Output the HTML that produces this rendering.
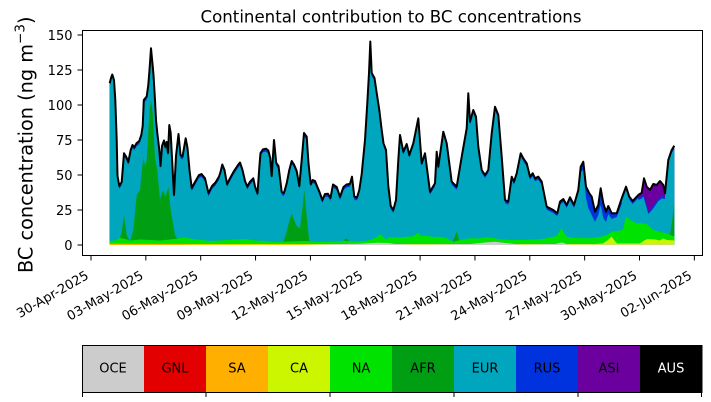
<!DOCTYPE html>
<html>
<head>
<meta charset="utf-8">
<style>
  html, body { margin: 0; padding: 0; background: #ffffff; }
  svg { display: block; }
  text { font-family: "DejaVu Sans", "Liberation Sans", sans-serif; fill: #000; }
</style>
</head>
<body>
<svg width="711" height="402" viewBox="0 0 711 402" xmlns="http://www.w3.org/2000/svg" xmlns:xlink="http://www.w3.org/1999/xlink">
  <defs>
    <clipPath id="plotclip">
      <rect x="82" y="30" width="620" height="215"/>
    </clipPath>
    <polygon id="tot" points="109.7,245 109.7,83.3 111,78 112.3,74.5 114,80 115.3,100 116.7,140 117.5,176 119.3,186 121.7,182 124,153.3 126.3,157 128.3,162 130.7,150 132.5,145 134.3,147.3 136.7,143 139.3,141 141.3,135 142.7,126 143.8,100 146.7,96.5 148.3,85 149.5,70 151,48.3 152.7,66 153.5,75 155,100 156,120 157.3,133 159.3,150 160.5,166 162,146 164,140.5 165.3,146.7 166.7,142 168,153 169.3,125 170.7,133 172,158 174,195 176,156 178.5,134 180.5,155 182.5,156.7 184,148 185.7,138.3 187.5,148 189.5,170 191.7,188 195,182 199,175 201.5,174 205,178.3 208.5,193.3 212,186 215.5,182.5 219,176.7 220.5,172 222.3,164.5 224.5,170 227,184 230,178.3 234,171 238,165 240,162.5 242.5,170 245,181 247.3,186.5 250,181.7 253.3,178.3 255,186.5 257.5,193.3 259.5,165 260.5,153 263,149.3 266,148.7 268.3,150.5 270.2,158 271.7,176 274,140 276.2,163 278.5,166 280,178 281.7,192 284,193 286.7,183.3 289.3,170 291.7,161 294,164.5 296.7,171 299.3,186 301.7,160 304,133 306.7,136.7 308.5,163.3 310.7,184 312.7,180 315,181 317.3,186.7 320,193.3 322.3,200 325,194 328,193.8 330.5,198 333,184.5 336.7,187 340,197 343.5,187 346.5,184.5 350,183.8 352,176.7 354.3,196.7 357,197.5 359.3,190 361.7,174 365,140 367.3,103 369,73 370.3,41.5 371.7,73 374.5,78 376.7,93 379.3,110 381.7,130 383.5,143.3 386,150 388.3,186 390.7,206 393.3,210 396,200 398.3,160 400,135 403.3,151.7 406.7,144 409.3,155 413.3,143.3 418.3,118.3 421.7,163.3 425,153.3 430,191.7 435,183.3 436.7,151.7 438.3,166.7 443.3,131.7 446.7,143.3 451.7,181.7 456.7,186.7 461.7,156.7 466.7,128.3 468.3,93.3 470,121.7 473.3,110 476,116.7 478.3,146.7 481.7,170 485,175 488.3,170 491.7,133.3 495,106.7 498.3,115 501.7,156.7 505,200 508.3,201.7 511.7,176.7 514,181.7 516.7,173.3 520.7,153.3 523.3,158.3 526.7,163.3 530,176.7 532.7,173.3 535,178.3 538.3,176.7 541.7,181.7 546.7,206.7 553.3,210 557.3,213.3 560,201.7 563.3,199 566.7,205 570,197.3 574,205 578.3,190 580.7,166.7 583.3,161.7 586,186.7 589.3,193.3 591.7,196.7 595,211.7 598.3,205 600.7,188.3 603.3,203.3 606,211.7 608.3,206 611.7,213.3 616.7,213.3 621.7,198.3 626,186.7 629.3,196.7 632.7,201 638.3,195 641.7,192.7 644,178.3 646.7,186.7 650,190 653.3,184 656.7,185 660,181 663.3,185 665,193.3 668.3,160 671.7,150 674.3,145.7 674.3,245"/>
  </defs>
  <rect x="0" y="0" width="711" height="402" fill="#ffffff"/>

  <!-- Title -->
  <text x="391" y="22.5" font-size="16.5" text-anchor="middle" textLength="381" lengthAdjust="spacingAndGlyphs">Continental contribution to BC concentrations</text>

  <g clip-path="url(#plotclip)">
    <use href="#tot" xlink:href="#tot" fill="#6b009e"/>
    <use href="#tot" xlink:href="#tot" transform="translate(0,1.4)" fill="#0033dd"/>
    <use href="#tot" xlink:href="#tot" transform="translate(0,3)" fill="#00a6bd"/>
  </g>

  <!-- RUS big patch near end -->
  <polygon fill="#0033dd" points="578.3,190 580.7,166.7 583.3,161.7 586,186.7 589.3,193.3 591.7,196.7 595,211.7 598.3,205 600.7,188.3 603.3,203.3 606,211.7 608.3,206 611.7,213.3 616.7,213.3 621.7,198.3 621.7,204 616.7,217 611.7,219 608.3,214 606,222 603.3,218 600.7,205 598.3,215 595,222 591.7,215 588.3,208 586,198 583.3,170 580.7,172 578.3,193"/>
  <!-- blue fringe under ASI patch -->
  <polygon fill="#0033dd" points="638.3,195 641.7,192.7 644,178.3 646.7,186.7 650,190 653.3,184 656.7,185 660,181 663.3,185 665,193.3 665,199 661.7,198.5 658,201.5 655,206 651.7,210.5 648.3,214 645.5,203.5 643.3,196.5 641.7,198.5 638.3,200"/>
  <!-- ASI big patch -->
  <polygon fill="#6b009e" points="638.3,195 641.7,192.7 644,178.3 646.7,186.7 650,190 653.3,184 656.7,185 660,181 663.3,185 665,193.3 665,197 661.7,196 658,199 655,203.3 651.7,208 648.3,211.7 645.5,201 643.3,194 641.7,196 638.3,198"/>

  <!-- AFR (dark green) -->
  <polygon fill="#009f13" points="109.7,245 109.7,243 116,242.5 119,240 121.7,232 124,215 126.7,235 130,241.5 133.3,230 136.7,195 140,190 143.3,157 145,166 146.7,160 149.3,112 151,100 152.7,113 155,158 157.3,170 160,200 161.7,193 163.3,190 165.3,196.7 168.3,186.7 170.7,210 175,235 178.3,240 181,242.5 283,242.5 286,234 289,222 291.7,213.3 294,220 296.7,226 300,228.3 302,212 304.3,190 306.7,216.7 309.3,241.7 312,243 342,243 345,239 347,238.5 350,242.5 452,243 455,236 456.7,231 458.5,238 460,243 667,240 670,234 672,222 674.3,203 674.3,245"/>

  <!-- NA (bright green) -->
  <polygon fill="#00e300" points="109.7,245 109.7,241 115,240.5 120,238 125,239 130,240.5 135,240 140,239.5 150,240 160,240.5 175,239 180,238 185,237.5 190,238.5 200,240 210,241 220,240.5 235,239.5 245,239 255,240.5 265,241 275,242 290,241.5 305,241 320,242 335,241.5 345,241 355,241.5 365,241 373,239 377,237 380.3,234.3 383,237 386,239.5 390,237.3 400,237.5 406.7,236.7 412,236.5 418.3,232.7 421,236 426.7,236 435,237 440,236.7 446,238 453.3,241.7 460,240 470,238.3 478,238.5 486.7,237.3 493,238 500,239.3 510,240 523.3,240 532,239.5 540,239.3 548,238 556.7,236 559,232 561.7,228.3 564,233 566.7,236.7 575,238 590,238.3 600,237 606.7,235 611.7,231.7 618,231 623.3,229.3 625,220 626.7,216.7 630,220 636.7,223.3 642,223.5 646.7,224 650,227 653.3,230 660,232 666.7,233.3 670,235 673.3,236 674.3,236 674.3,245"/>

  <!-- CA (yellow-green) -->
  <polygon fill="#ccf500" points="109.7,245 109.7,243.8 200,244 595,244 603,243.5 608,240 611.7,236.5 614,240 617,243.5 640,243.5 645,240 648,239 655,239.5 660,240.5 663,238.5 667,240 674.3,240.5 674.3,245"/>

  <!-- SA (orange) -->
  <polygon fill="#ffaf00" points="109.7,245 109.7,244 180,244 200,244.5 674.3,244.5 674.3,245"/>

  <!-- OCE (gray) -->
  <polygon fill="#cccccc" points="109.7,245 300,245 330,244.2 360,243.7 378,242.8 388,243 395,244 420,244.5 470,244 485,242.5 495,241.8 505,243 520,244.5 555,244 562,242.5 568,244.5 674.3,244.5 674.3,245"/>

  <!-- AUS / total black line -->
  <polyline fill="none" stroke="#000" stroke-width="2" stroke-linejoin="round" points="109.7,83.3 111,78 112.3,74.5 114,80 115.3,100 116.7,140 117.5,176 119.3,186 121.7,182 124,153.3 126.3,157 128.3,162 130.7,150 132.5,145 134.3,147.3 136.7,143 139.3,141 141.3,135 142.7,126 143.8,100 146.7,96.5 148.3,85 149.5,70 151,48.3 152.7,66 153.5,75 155,100 156,120 157.3,133 159.3,150 160.5,166 162,146 164,140.5 165.3,146.7 166.7,142 168,153 169.3,125 170.7,133 172,158 174,195 176,156 178.5,134 180.5,155 182.5,156.7 184,148 185.7,138.3 187.5,148 189.5,170 191.7,188 195,182 199,175 201.5,174 205,178.3 208.5,193.3 212,186 215.5,182.5 219,176.7 220.5,172 222.3,164.5 224.5,170 227,184 230,178.3 234,171 238,165 240,162.5 242.5,170 245,181 247.3,186.5 250,181.7 253.3,178.3 255,186.5 257.5,193.3 259.5,165 260.5,153 263,149.3 266,148.7 268.3,150.5 270.2,158 271.7,176 274,140 276.2,163 278.5,166 280,178 281.7,192 284,193 286.7,183.3 289.3,170 291.7,161 294,164.5 296.7,171 299.3,186 301.7,160 304,133 306.7,136.7 308.5,163.3 310.7,184 312.7,180 315,181 317.3,186.7 320,193.3 322.3,200 325,194 328,193.8 330.5,198 333,184.5 336.7,187 340,197 343.5,187 346.5,184.5 350,183.8 352,176.7 354.3,196.7 357,197.5 359.3,190 361.7,174 365,140 367.3,103 369,73 370.3,41.5 371.7,73 374.5,78 376.7,93 379.3,110 381.7,130 383.5,143.3 386,150 388.3,186 390.7,206 393.3,210 396,200 398.3,160 400,135 403.3,151.7 406.7,144 409.3,155 413.3,143.3 418.3,118.3 421.7,163.3 425,153.3 430,191.7 435,183.3 436.7,151.7 438.3,166.7 443.3,131.7 446.7,143.3 451.7,181.7 456.7,186.7 461.7,156.7 466.7,128.3 468.3,93.3 470,121.7 473.3,110 476,116.7 478.3,146.7 481.7,170 485,175 488.3,170 491.7,133.3 495,106.7 498.3,115 501.7,156.7 505,200 508.3,201.7 511.7,176.7 514,181.7 516.7,173.3 520.7,153.3 523.3,158.3 526.7,163.3 530,176.7 532.7,173.3 535,178.3 538.3,176.7 541.7,181.7 546.7,206.7 553.3,210 557.3,213.3 560,201.7 563.3,199 566.7,205 570,197.3 574,205 578.3,190 580.7,166.7 583.3,161.7 586,186.7 589.3,193.3 591.7,196.7 595,211.7 598.3,205 600.7,188.3 603.3,203.3 606,211.7 608.3,206 611.7,213.3 616.7,213.3 621.7,198.3 626,186.7 629.3,196.7 632.7,201 638.3,195 641.7,192.7 644,178.3 646.7,186.7 650,190 653.3,184 656.7,185 660,181 663.3,185 665,193.3 668.3,160 671.7,150 674.3,145.7"/>

  <!-- Axes frame -->
  <rect x="82.5" y="30.5" width="620" height="225" fill="none" stroke="#000" stroke-width="1"/>

  <!-- Y ticks -->
  <g stroke="#000" stroke-width="1">
    <line x1="77.5" y1="245" x2="82" y2="245"/>
    <line x1="77.5" y1="210" x2="82" y2="210"/>
    <line x1="77.5" y1="175" x2="82" y2="175"/>
    <line x1="77.5" y1="140" x2="82" y2="140"/>
    <line x1="77.5" y1="105" x2="82" y2="105"/>
    <line x1="77.5" y1="70" x2="82" y2="70"/>
    <line x1="77.5" y1="35" x2="82" y2="35"/>
  </g>
  <g font-size="13" text-anchor="end">
    <text x="72.5" y="249.8">0</text>
    <text x="72.5" y="214.8">25</text>
    <text x="72.5" y="179.8">50</text>
    <text x="72.5" y="144.8">75</text>
    <text x="72.5" y="109.8">100</text>
    <text x="72.5" y="74.8">125</text>
    <text x="72.5" y="39.8">150</text>
  </g>

  <!-- Y label -->
  <text transform="translate(32.7,273) rotate(-90)" font-size="19.3">BC concentration (ng m<tspan baseline-shift="super" font-size="13.5">−3</tspan>)</text>

  <!-- X ticks -->
  <g stroke="#000" stroke-width="1">
    <line x1="91" y1="255.5" x2="91" y2="260.5"/>
    <line x1="145.85" y1="255.5" x2="145.85" y2="260.5"/>
    <line x1="200.7" y1="255.5" x2="200.7" y2="260.5"/>
    <line x1="255.55" y1="255.5" x2="255.55" y2="260.5"/>
    <line x1="310.4" y1="255.5" x2="310.4" y2="260.5"/>
    <line x1="365.25" y1="255.5" x2="365.25" y2="260.5"/>
    <line x1="420.1" y1="255.5" x2="420.1" y2="260.5"/>
    <line x1="474.95" y1="255.5" x2="474.95" y2="260.5"/>
    <line x1="529.8" y1="255.5" x2="529.8" y2="260.5"/>
    <line x1="584.65" y1="255.5" x2="584.65" y2="260.5"/>
    <line x1="639.5" y1="255.5" x2="639.5" y2="260.5"/>
    <line x1="694.35" y1="255.5" x2="694.35" y2="260.5"/>
  </g>
  <g font-size="13" text-anchor="end">
    <text transform="translate(89.5,278) rotate(-30)">30-Apr-2025</text>
    <text transform="translate(144.35,278) rotate(-30)">03-May-2025</text>
    <text transform="translate(199.2,278) rotate(-30)">06-May-2025</text>
    <text transform="translate(254.05,278) rotate(-30)">09-May-2025</text>
    <text transform="translate(308.9,278) rotate(-30)">12-May-2025</text>
    <text transform="translate(363.75,278) rotate(-30)">15-May-2025</text>
    <text transform="translate(418.6,278) rotate(-30)">18-May-2025</text>
    <text transform="translate(473.45,278) rotate(-30)">21-May-2025</text>
    <text transform="translate(528.3,278) rotate(-30)">24-May-2025</text>
    <text transform="translate(583.15,278) rotate(-30)">27-May-2025</text>
    <text transform="translate(638,278) rotate(-30)">30-May-2025</text>
    <text transform="translate(692.85,278) rotate(-30)">02-Jun-2025</text>
  </g>

  <!-- Colorbar -->
  <rect x="82" y="345.5" width="62" height="47" fill="#cccccc"/>
  <rect x="144" y="345.5" width="62" height="47" fill="#e30000"/>
  <rect x="206" y="345.5" width="62" height="47" fill="#ffaf00"/>
  <rect x="268" y="345.5" width="62" height="47" fill="#ccf500"/>
  <rect x="330" y="345.5" width="62" height="47" fill="#00e300"/>
  <rect x="392" y="345.5" width="62" height="47" fill="#009f13"/>
  <rect x="454" y="345.5" width="62" height="47" fill="#00a6bd"/>
  <rect x="516" y="345.5" width="62" height="47" fill="#0033dd"/>
  <rect x="578" y="345.5" width="62" height="47" fill="#6b009e"/>
  <rect x="640" y="345.5" width="62" height="47" fill="#000000"/>
  <rect x="82.5" y="345.5" width="619.5" height="47" fill="none" stroke="#000" stroke-width="1"/>
  <g font-size="13" text-anchor="middle">
    <text x="113" y="372.5">OCE</text>
    <text x="175" y="372.5">GNL</text>
    <text x="237" y="372.5">SA</text>
    <text x="299" y="372.5">CA</text>
    <text x="361" y="372.5">NA</text>
    <text x="423" y="372.5">AFR</text>
    <text x="485" y="372.5">EUR</text>
    <text x="547" y="372.5">RUS</text>
    <text x="609" y="372.5">ASI</text>
    <text x="671" y="372.5" style="fill:#ffffff">AUS</text>
  </g>
  <g stroke="#000" stroke-width="1">
    <line x1="82.5" y1="392.5" x2="82.5" y2="397"/>
    <line x1="206" y1="392.5" x2="206" y2="397"/>
    <line x1="330" y1="392.5" x2="330" y2="397"/>
    <line x1="454" y1="392.5" x2="454" y2="397"/>
    <line x1="578" y1="392.5" x2="578" y2="397"/>
    <line x1="701.5" y1="392.5" x2="701.5" y2="397"/>
  </g>
</svg>
</body>
</html>
